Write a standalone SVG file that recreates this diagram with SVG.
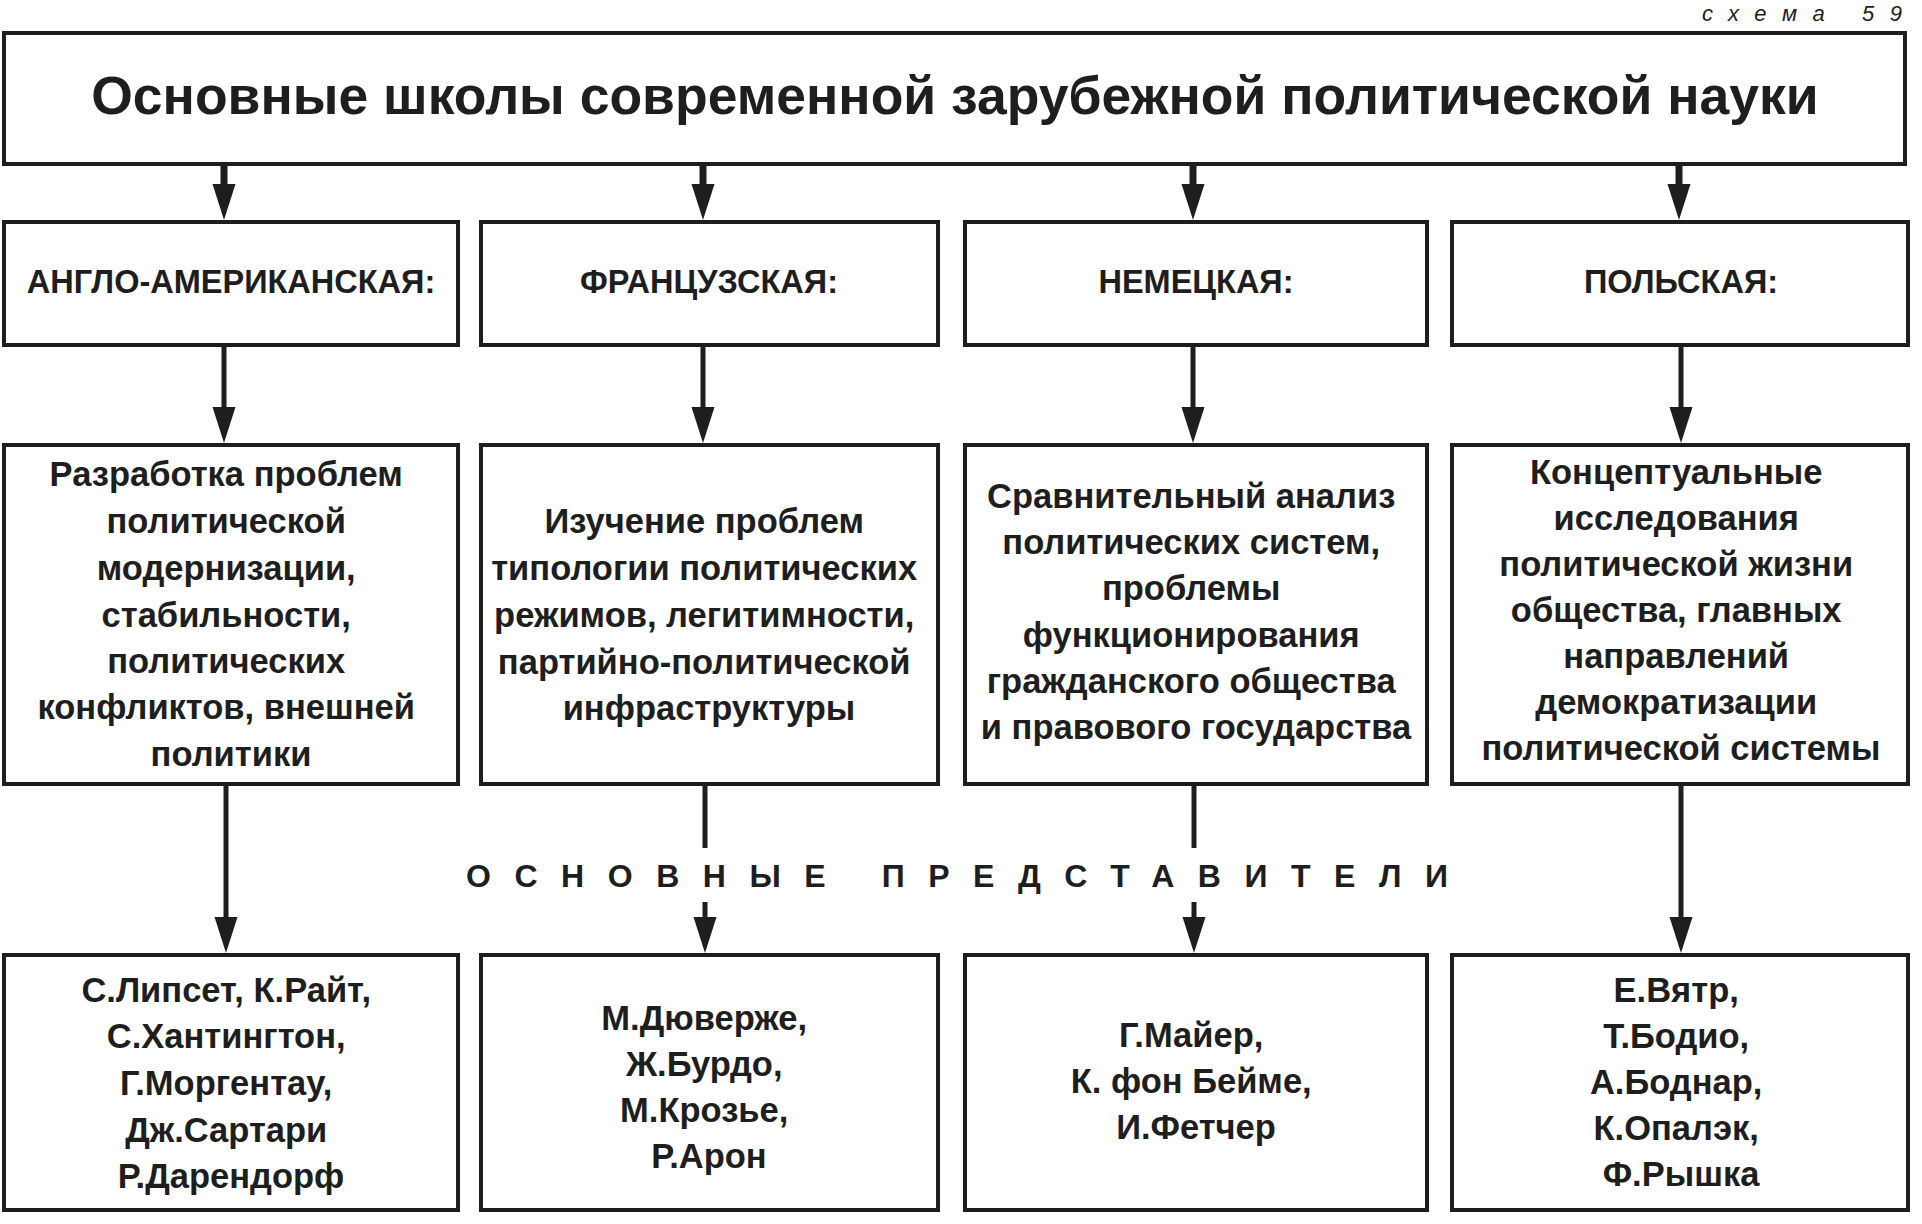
<svg xmlns="http://www.w3.org/2000/svg" width="1922" height="1224" viewBox="0 0 1922 1224">
<defs>
<marker id="ah" markerUnits="userSpaceOnUse" markerWidth="40" markerHeight="26" viewBox="0 -13 40 26" refX="0" refY="0" orient="auto" overflow="visible">
<path d="M0,-11.5 L36,0 L0,11.5 Z" fill="#1e1e1e"/>
</marker>
</defs>
<style>
.box{fill:#fff;stroke:#1e1e1e;stroke-width:4}
.t{font-family:"Liberation Sans",Arial,sans-serif;fill:#1e1e1e;text-anchor:middle;font-weight:bold}
.title{font-size:53.5px}
.hdr{font-size:32.5px}
.body{font-size:34.5px}
.lbl{font-family:"Liberation Sans",Arial,sans-serif;fill:#1e1e1e;font-size:32px;font-weight:bold}
.c{stroke:#1e1e1e;stroke-width:5;fill:none}
.ca{stroke:#1e1e1e;stroke-width:5;fill:none;marker-end:url(#ah)}
.cat{stroke:#1e1e1e;stroke-width:7;fill:none;marker-end:url(#ah)}
</style>
<rect width="1922" height="1224" fill="#fff"/>
<text x="1702" y="21" font-family="Liberation Sans,Arial,sans-serif" font-style="italic" font-size="22" fill="#1e1e1e" textLength="200" lengthAdjust="spacing">схема 59</text>

<g id="title">
<rect class="box" x="4" y="33" width="1901" height="131"/>
<text class="t title" x="955" y="114">Основные школы современной зарубежной политической науки</text>
</g>

<g id="h1"><rect class="box" x="4" y="222" width="454" height="123"/><text class="t hdr" x="231" y="293">АНГЛО-АМЕРИКАНСКАЯ:</text></g>
<g id="h2"><rect class="box" x="481" y="222" width="457" height="123"/><text class="t hdr" x="709" y="293">ФРАНЦУЗСКАЯ:</text></g>
<g id="h3"><rect class="box" x="965" y="222" width="462" height="123"/><text class="t hdr" x="1196" y="293">НЕМЕЦКАЯ:</text></g>
<g id="h4"><rect class="box" x="1452" y="222" width="456" height="123"/><text class="t hdr" x="1681" y="293">ПОЛЬСКАЯ:</text></g>

<g id="m1"><rect class="box" x="4" y="445" width="454" height="339"/>
<text class="t body">
<tspan x="231" y="486">Разработка проблем</tspan>
<tspan x="231" y="533">политической</tspan>
<tspan x="231" y="580">модернизации,</tspan>
<tspan x="231" y="627">стабильности,</tspan>
<tspan x="231" y="673">политических</tspan>
<tspan x="231" y="719">конфликтов, внешней</tspan>
<tspan x="231" y="766">политики</tspan>
</text></g>
<g id="m2"><rect class="box" x="481" y="445" width="457" height="339"/>
<text class="t body">
<tspan x="709" y="533">Изучение проблем</tspan>
<tspan x="709" y="580">типологии политических</tspan>
<tspan x="709" y="627">режимов, легитимности,</tspan>
<tspan x="709" y="674">партийно-политической</tspan>
<tspan x="709" y="720">инфраструктуры</tspan>
</text></g>
<g id="m3"><rect class="box" x="965" y="445" width="462" height="339"/>
<text class="t body">
<tspan x="1196" y="508">Сравнительный анализ</tspan>
<tspan x="1196" y="554">политических систем,</tspan>
<tspan x="1196" y="600">проблемы</tspan>
<tspan x="1196" y="647">функционирования</tspan>
<tspan x="1196" y="693">гражданского общества</tspan>
<tspan x="1196" y="739">и правового государства</tspan>
</text></g>
<g id="m4"><rect class="box" x="1452" y="445" width="456" height="339"/>
<text class="t body">
<tspan x="1681" y="484">Концептуальные</tspan>
<tspan x="1681" y="530">исследования</tspan>
<tspan x="1681" y="576">политической жизни</tspan>
<tspan x="1681" y="622">общества, главных</tspan>
<tspan x="1681" y="668">направлений</tspan>
<tspan x="1681" y="714">демократизации</tspan>
<tspan x="1681" y="760">политической системы</tspan>
</text></g>

<text id="label" class="lbl" x="466" y="887" textLength="982" lengthAdjust="spacing">ОСНОВНЫЕ ПРЕДСТАВИТЕЛИ</text>

<g id="b1"><rect class="box" x="4" y="955" width="454" height="255"/>
<text class="t body">
<tspan x="231" y="1002">С.Липсет, К.Райт,</tspan>
<tspan x="231" y="1048">С.Хантингтон,</tspan>
<tspan x="231" y="1095">Г.Моргентау,</tspan>
<tspan x="231" y="1142">Дж.Сартари</tspan>
<tspan x="231" y="1188">Р.Дарендорф</tspan>
</text></g>
<g id="b2"><rect class="box" x="481" y="955" width="457" height="255"/>
<text class="t body">
<tspan x="709" y="1030">М.Дюверже,</tspan>
<tspan x="709" y="1076">Ж.Бурдо,</tspan>
<tspan x="709" y="1122">М.Крозье,</tspan>
<tspan x="709" y="1168">Р.Арон</tspan>
</text></g>
<g id="b3"><rect class="box" x="965" y="955" width="462" height="255"/>
<text class="t body">
<tspan x="1196" y="1047">Г.Майер,</tspan>
<tspan x="1196" y="1093">К. фон Бейме,</tspan>
<tspan x="1196" y="1139">И.Фетчер</tspan>
</text></g>
<g id="b4"><rect class="box" x="1452" y="955" width="456" height="255"/>
<text class="t body">
<tspan x="1681" y="1002">Е.Вятр,</tspan>
<tspan x="1681" y="1048">Т.Бодио,</tspan>
<tspan x="1681" y="1094">А.Боднар,</tspan>
<tspan x="1681" y="1140">К.Опалэк,</tspan>
<tspan x="1681" y="1186">Ф.Рышка</tspan>
</text></g>

<g id="connectors">
<line class="cat" x1="224" y1="166" x2="224" y2="184"/>
<line class="cat" x1="703" y1="166" x2="703" y2="184"/>
<line class="cat" x1="1193" y1="166" x2="1193" y2="184"/>
<line class="cat" x1="1679" y1="166" x2="1679" y2="184"/>
<line class="ca" x1="224" y1="347" x2="224" y2="407"/>
<line class="ca" x1="703" y1="347" x2="703" y2="407"/>
<line class="ca" x1="1193" y1="347" x2="1193" y2="407"/>
<line class="ca" x1="1681" y1="347" x2="1681" y2="407"/>
<line class="ca" x1="226" y1="786" x2="226" y2="917"/>
<line class="c" x1="705" y1="786" x2="705" y2="848"/>
<line class="ca" x1="705" y1="902" x2="705" y2="917"/>
<line class="c" x1="1194" y1="786" x2="1194" y2="848"/>
<line class="ca" x1="1194" y1="902" x2="1194" y2="917"/>
<line class="ca" x1="1681" y1="786" x2="1681" y2="917"/>
</g>
</svg>
